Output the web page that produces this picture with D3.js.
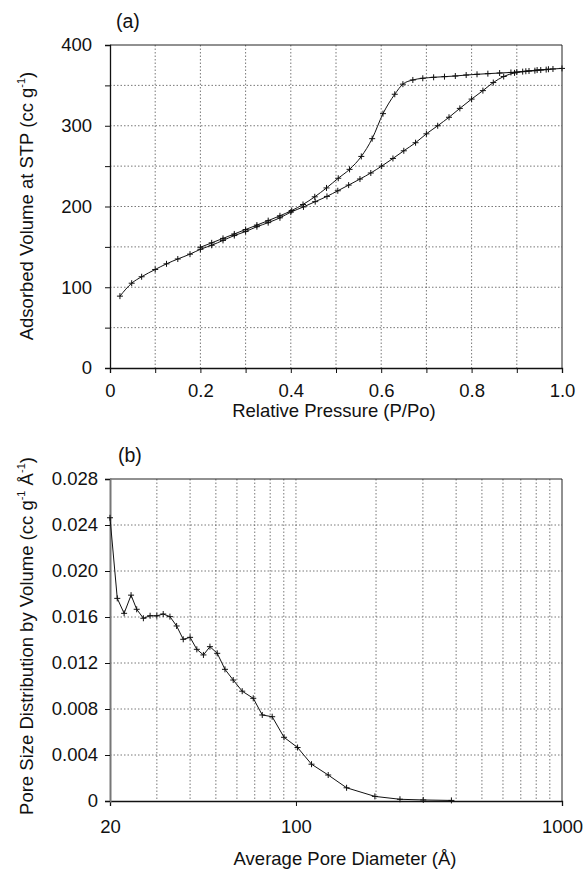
<!DOCTYPE html>
<html><head><meta charset="utf-8">
<script src="https://cdn.jsdelivr.net/npm/d3@7"></script>
<style>
html,body{margin:0;padding:0;background:#fff;}
svg{display:block;}
text{font-family:"Liberation Sans",Arial,sans-serif;fill:#111;}
</style></head>
<body>
<script>
// ---- Data: (a) isotherm ----
const adsP = [0.022,0.048,0.07,0.1,0.125,0.15,0.177,0.2,0.225,0.25,0.275,0.3,0.325,0.35,0.376,0.4,0.428,0.454,0.48,0.504,0.528,0.553,0.577,0.601,0.626,0.65,0.676,0.70,0.725,0.75,0.774,0.80,0.825,0.848,0.871,0.895,0.92,0.945,0.97];
const adsV = [89,105,113,122,129,135,141,147,152,158,164,169,175,180,186,193,199.5,206,212.5,219.5,226.5,234,241.5,250,259.5,269,279,290,300,310.5,321.5,333,343.5,353.5,361,365.5,367.5,369,370];
const desP = [1.0,0.98,0.965,0.953,0.94,0.927,0.913,0.9,0.887,0.862,0.836,0.812,0.788,0.764,0.74,0.716,0.692,0.67,0.648,0.63,0.604,0.58,0.556,0.53,0.505,0.479,0.453,0.427,0.402,0.376,0.35,0.325,0.3,0.275,0.25,0.225,0.2];
const desV = [371,370.3,369.5,369,368.2,367.8,367,366.5,366,365.3,364.5,363.7,362.8,361.6,360.8,360,358.8,356.7,351.5,339,315,284,262,246,235,223,212,202.5,195,188.5,182.5,177,171.5,166,160.5,155,149.5];
const xTicksA = [0,0.1,0.2,0.3,0.4,0.5,0.6,0.7,0.8,0.9,1.0];
const xLabelsA = [0,0.2,0.4,0.6,0.8,1.0];
const yTicksA = [0,50,100,150,200,250,300,350,400];
const yLabelsA = [0,100,200,300,400];

// ---- Data: (b) pore size distribution ----
const psdD = [20,21.3,22.6,24.0,25.2,26.7,28.3,30.0,31.7,33.6,35.6,37.7,40,42.4,44.9,47.5,50.6,54.1,58.1,62.8,69.1,74.7,81.4,90.2,101.4,114.4,132.2,155,198,246,301,384];
const psdV = [0.02463,0.01762,0.01632,0.0179,0.01667,0.01589,0.01611,0.0161,0.01626,0.01603,0.01522,0.01406,0.01423,0.01319,0.0127,0.01342,0.01284,0.01145,0.01052,0.00955,0.00893,0.00748,0.00733,0.00554,0.00465,0.0032,0.00226,0.00115,0.0004,0.00015,0.00009,0.00005];
const xTicksB = [20,100,1000];
const xGridB = [30,40,50,60,70,80,90,100,200,300,400,500,600,700,800,900];
const yTicksB = [0,0.004,0.008,0.012,0.016,0.020,0.024,0.028];

const W = 588, H = 871;
const svg = d3.select("body").append("svg").attr("width", W).attr("height", H);

const L = 110, R = 562;
const TICK_FS = 18.5, TITLE_FS = 18.5;
const gridStyle = sel => sel.attr("stroke", "#555").attr("stroke-width", 0.8).attr("stroke-dasharray", "1.5,2");

function cross(g, pts, x, y, s) {
  g.selectAll(null).data(pts).join("path")
    .attr("d", d => `M${x(d[0])-s},${y(d[1])}H${x(d[0])+s}M${x(d[0])},${y(d[1])-s}V${y(d[1])+s}`)
    .attr("stroke", "#111").attr("stroke-width", 1).attr("fill", "none");
}

// ================= (a) =================
{
  const T = 45, B = 368;
  const x = d3.scaleLinear().domain([0, 1]).range([L, R]);
  const y = d3.scaleLinear().domain([0, 400]).range([B, T]);
  const g = svg.append("g");

  g.append("g").selectAll("line").data(xTicksA.slice(1, -1)).join("line")
    .attr("x1", d => x(d)).attr("x2", d => x(d)).attr("y1", T).attr("y2", B).call(gridStyle);
  g.append("g").selectAll("line").data(yTicksA.slice(1, -1)).join("line")
    .attr("x1", L).attr("x2", R).attr("y1", d => y(d)).attr("y2", d => y(d)).call(gridStyle);

  g.append("line").attr("x1", L).attr("x2", R).attr("y1", T).attr("y2", T).attr("stroke", "#222").attr("stroke-width", 1);
  g.append("line").attr("x1", R).attr("x2", R).attr("y1", T).attr("y2", B).attr("stroke", "#222").attr("stroke-width", 1);

  const ax = g.append("g").attr("transform", `translate(0,${B})`)
    .call(d3.axisBottom(x).tickValues(xTicksA).tickSize(5).tickPadding(11)
      .tickFormat(d => xLabelsA.some(v => Math.abs(v - d) < 1e-9) ? (d === 0 ? "0" : d3.format(".1f")(d)) : ""));
  const ay = g.append("g").attr("transform", `translate(${L},0)`)
    .call(d3.axisLeft(y).tickValues(yTicksA).tickSize(5).tickPadding(13)
      .tickFormat(d => yLabelsA.includes(d) ? d : ""));
  [ax, ay].forEach(a => {
    a.select(".domain").attr("stroke", "#111").attr("stroke-width", 1.3);
    a.selectAll(".tick line").attr("stroke", "#111");
    a.selectAll("text").attr("font-size", TICK_FS).attr("font-family", "Liberation Sans, Arial, sans-serif").attr("fill", "#111");
  });

  const line = d3.line().x(d => x(d[0])).y(d => y(d[1])).curve(d3.curveMonotoneX);
  const ads = adsP.map((p, i) => [p, adsV[i]]);
  const des = desP.map((p, i) => [p, desV[i]]).sort((a, b) => a[0] - b[0]);
  g.append("path").attr("d", line(ads)).attr("fill", "none").attr("stroke", "#111").attr("stroke-width", 1);
  g.append("path").attr("d", line(des)).attr("fill", "none").attr("stroke", "#111").attr("stroke-width", 1);
  cross(g, ads, x, y, 3);
  cross(g, des, x, y, 3);

  svg.append("text").attr("x", 116).attr("y", 28).attr("font-size", 19.5).text("(a)");
  svg.append("text").attr("x", 334).attr("y", 417).attr("text-anchor", "middle").attr("font-size", TITLE_FS)
    .text("Relative Pressure (P/Po)");
  const yl = svg.append("text").attr("transform", `translate(33,206) rotate(-90)`).attr("text-anchor", "middle").attr("font-size", TITLE_FS);
  yl.append("tspan").text("Adsorbed Volume at STP (cc g");
  yl.append("tspan").attr("font-size", 11).attr("dy", -8).text("-1");
  yl.append("tspan").attr("dy", 8).text(")");
}

// ================= (b) =================
{
  const T = 479, B = 801;
  const x = d3.scaleLog().domain([20, 1000]).range([L, R]);
  const y = d3.scaleLinear().domain([0, 0.028]).range([B, T]);
  const g = svg.append("g");

  g.append("g").selectAll("line").data(xGridB).join("line")
    .attr("x1", d => x(d)).attr("x2", d => x(d)).attr("y1", T).attr("y2", B).call(gridStyle);
  g.append("g").selectAll("line").data(yTicksB.slice(1, -1)).join("line")
    .attr("x1", L).attr("x2", R).attr("y1", d => y(d)).attr("y2", d => y(d)).call(gridStyle);

  g.append("line").attr("x1", L).attr("x2", R).attr("y1", T).attr("y2", T).attr("stroke", "#222").attr("stroke-width", 1);
  g.append("line").attr("x1", R).attr("x2", R).attr("y1", T).attr("y2", B).attr("stroke", "#222").attr("stroke-width", 1);

  const ax = g.append("g").attr("transform", `translate(0,${B})`)
    .call(d3.axisBottom(x).tickValues(xTicksB).tickSize(5).tickPadding(14).tickFormat(d3.format("d")));
  const ay = g.append("g").attr("transform", `translate(${L},0)`)
    .call(d3.axisLeft(y).tickValues(yTicksB).tickSize(5).tickPadding(7)
      .tickFormat(d => d === 0 ? "0" : d3.format(".3f")(d)));
  [ax, ay].forEach(a => {
    a.select(".domain").attr("stroke", "#111").attr("stroke-width", 1.3);
    a.selectAll(".tick line").attr("stroke", "#111");
    a.selectAll("text").attr("font-size", TICK_FS).attr("font-family", "Liberation Sans, Arial, sans-serif").attr("fill", "#111");
  });
  ay.select(".domain").attr("stroke", "#777").attr("stroke-width", 2);

  const pts = psdD.map((d, i) => [d, psdV[i]]);
  const line = d3.line().x(d => x(d[0])).y(d => y(d[1]));
  g.append("path").attr("d", line(pts)).attr("fill", "none").attr("stroke", "#111").attr("stroke-width", 1);
  cross(g, pts, x, y, 3);

  svg.append("text").attr("x", 118).attr("y", 462).attr("font-size", 19.5).text("(b)");
  svg.append("text").attr("x", 345).attr("y", 865).attr("text-anchor", "middle").attr("font-size", TITLE_FS)
    .text("Average Pore Diameter (Å)");
  const yl = svg.append("text").attr("transform", `translate(33,636) rotate(-90)`).attr("text-anchor", "middle").attr("font-size", TITLE_FS);
  yl.append("tspan").text("Pore Size Distribution by Volume (cc g");
  yl.append("tspan").attr("font-size", 11).attr("dy", -8).text("-1");
  yl.append("tspan").attr("dy", 8).text(" Å");
  yl.append("tspan").attr("font-size", 11).attr("dy", -8).text("-1");
  yl.append("tspan").attr("dy", 8).text(")");
}
</script>
</body></html>
